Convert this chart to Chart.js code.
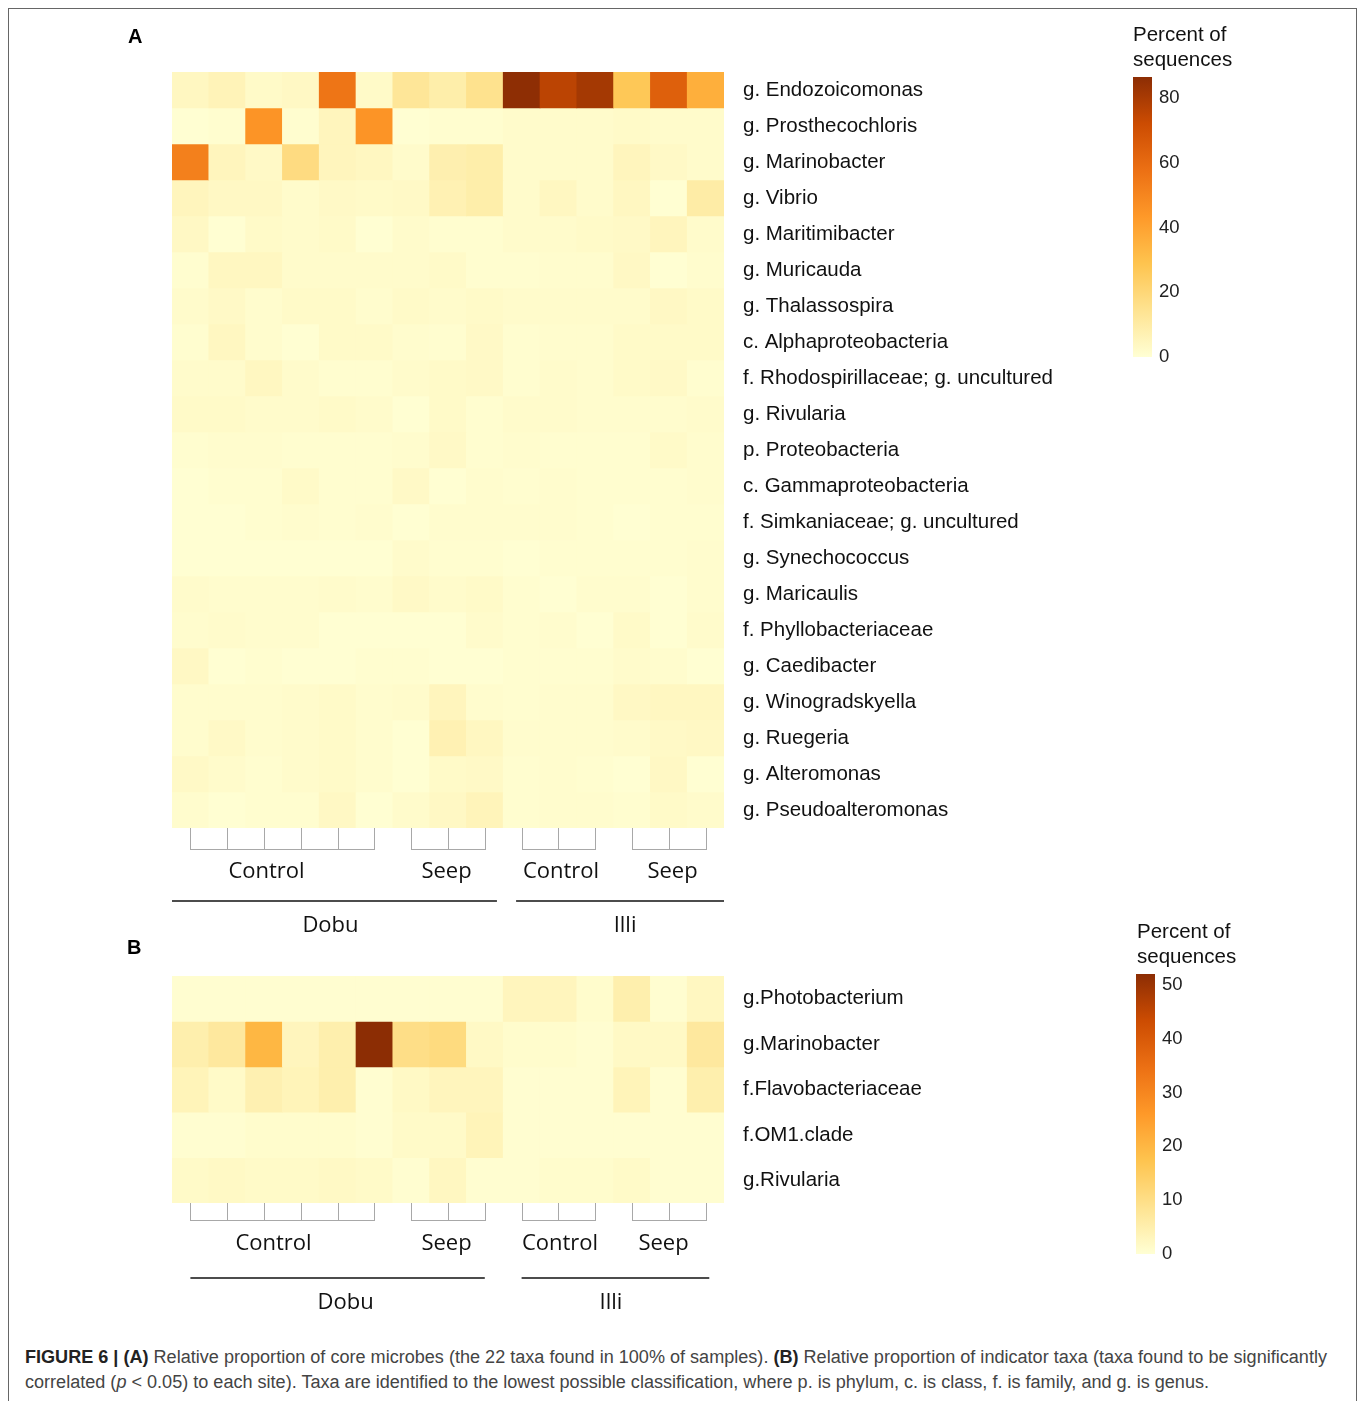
<!DOCTYPE html>
<html>
<head>
<meta charset="utf-8">
<script src="https://cdn.jsdelivr.net/npm/chart.js@4.4.1/dist/chart.umd.min.js"></script>
<style>
  body { margin: 0; background: #fff; }
  #page { position: relative; width: 1360px; height: 1401px; overflow: hidden; }
  #frame { position: absolute; left: 8px; top: 8px; width: 1349px; height: 1420px;
           border: 1px solid #666; box-sizing: border-box; }
  #chartA { position: absolute; left: 0; top: 0; }
  #chartB { position: absolute; left: 0; top: 905px; }
  .cap { position: absolute; left: 25px; white-space: nowrap; transform-origin: 0 50%;
         font: 18px "Liberation Sans", Arial, sans-serif; color: #444; line-height: 20px; }
  .cap b { color: #222; }
</style>
</head>
<body>
<div id="page">
  <div id="frame"></div>
  <canvas id="chartA" width="1360" height="945"></canvas>
  <canvas id="chartB" width="1360" height="425"></canvas>
  <div class="cap" id="cap1" data-w="1302" style="top:1347px"><b>FIGURE 6 | (A)</b> Relative proportion of core microbes (the 22 taxa found in 100% of samples). <b>(B)</b> Relative proportion of indicator taxa (taxa found to be significantly</div>
  <div class="cap" id="cap2" data-w="1184" style="top:1372px">correlated (<i>p</i> &lt; 0.05) to each site). Taxa are identified to the lowest possible classification, where p. is phylum, c. is class, f. is family, and g. is genus.</div>
</div>
<script>
// samples (columns), in plot order
const samples = ['D-C1', 'D-C2', 'D-C3', 'D-C4', 'D-C5', 'D-C6', 'D-S1', 'D-S2', 'D-S3',
                 'I-C1', 'I-C2', 'I-C3', 'I-S1', 'I-S2', 'I-S3'];
const sampleSite = ['Dobu', 'Dobu', 'Dobu', 'Dobu', 'Dobu', 'Dobu', 'Dobu', 'Dobu', 'Dobu',
                    'Illi', 'Illi', 'Illi', 'Illi', 'Illi', 'Illi'];
const sampleTreatment = ['Control', 'Control', 'Control', 'Control', 'Control', 'Control', 'Seep', 'Seep', 'Seep',
                         'Control', 'Control', 'Control', 'Seep', 'Seep', 'Seep'];

// panel A: core taxa, percent of sequences
const coreTaxa = [
  'g. Endozoicomonas', 'g. Prosthecochloris', 'g. Marinobacter', 'g. Vibrio', 'g. Maritimibacter',
  'g. Muricauda', 'g. Thalassospira', 'c. Alphaproteobacteria', 'f. Rhodospirillaceae; g. uncultured',
  'g. Rivularia', 'p. Proteobacteria', 'c. Gammaproteobacteria', 'f. Simkaniaceae; g. uncultured',
  'g. Synechococcus', 'g. Maricaulis', 'f. Phyllobacteriaceae', 'g. Caedibacter', 'g. Winogradskyella',
  'g. Ruegeria', 'g. Alteromonas', 'g. Pseudoalteromonas'
];
const coreValues = [
  [4, 6, 2.5, 3.5, 56, 2.5, 13, 9, 15, 86, 76, 81, 27, 64, 36],
  [0.5, 1, 45, 1, 5, 45, 0.5, 1, 1, 2, 2, 2, 2.5, 2, 2],
  [52, 5, 3, 18, 5, 4, 2, 8, 9, 2, 2, 2, 5, 3, 2],
  [5, 3.5, 3.5, 2, 3, 2.5, 3, 7, 9, 2, 4, 2, 4, 0.5, 10],
  [3.5, 0.5, 2.5, 2, 2.5, 0.5, 2, 1, 1, 2, 2, 2.5, 3, 5, 2],
  [1, 4, 4, 2, 2, 2, 2, 2.5, 1, 1, 1.5, 1.5, 3.5, 0.5, 1.5],
  [2, 3, 1.5, 2.5, 2.5, 1.5, 2.5, 2, 2.5, 2, 2, 2, 2, 3.5, 2.5],
  [1, 4, 1.5, 0.5, 2.5, 2.5, 1.5, 1, 3, 1, 1.5, 1.5, 2.5, 2.5, 2.5],
  [2, 2, 4, 2, 1, 1, 2, 2.5, 3, 1, 2, 1.5, 2.5, 3, 1],
  [2.5, 2.5, 2, 2, 2.5, 2, 0.5, 2.5, 1, 2, 2, 1.5, 1.5, 1.5, 2],
  [1, 1.5, 1.5, 1, 1, 1, 1.5, 3, 1, 1.5, 1, 1, 1, 2.5, 1.5],
  [0.5, 1, 1, 2.5, 1, 1, 3, 0.5, 1.5, 1, 1.5, 1, 1, 1, 1.5],
  [0.5, 0.5, 1, 1.5, 1, 1.5, 0.5, 1.5, 1.5, 1.5, 1.5, 1, 0.5, 1, 1],
  [0.5, 0.5, 0.5, 0.5, 0.5, 0.5, 2, 1, 1, 0.5, 1, 1, 1, 1, 1.5],
  [2, 1.5, 1.5, 1.5, 2, 1.5, 3, 2, 2.5, 1, 0.5, 1.5, 1.5, 0.5, 1.5],
  [1.5, 2, 1.5, 1.5, 0.5, 0.5, 0.5, 0.5, 2, 1, 1.5, 0.5, 2.5, 0.5, 2],
  [3.5, 0.5, 1, 0.5, 0.5, 1, 1, 0.5, 0.5, 1, 1, 1, 2, 1.5, 0.5],
  [1.5, 1.5, 1.5, 2, 2.5, 1.5, 2, 5, 1.5, 1, 1.5, 1.5, 3.5, 4, 4],
  [1.5, 3, 1.5, 2, 2.5, 1.5, 0.5, 7, 4, 1.5, 1.5, 1.5, 2, 3, 3.5],
  [3, 2, 1, 2, 2.5, 1.5, 0.5, 2.5, 3, 1, 1.5, 1, 0.5, 3.5, 0.5],
  [1.5, 0.5, 1, 1, 3.5, 0.5, 2, 3.5, 5.5, 1, 1.5, 1.5, 1, 2.5, 2]
];
const coreMax = 86.5;
const coreLegendTicks = [0, 20, 40, 60, 80];

// panel B: indicator taxa
const indicatorTaxa = ['g.Photobacterium', 'g.Marinobacter', 'f.Flavobacteriaceae', 'f.OM1.clade', 'g.Rivularia'];
const indicatorValues = [
  [0.5, 0.5, 0.5, 0.5, 0.5, 0.5, 0.5, 0.5, 0.5, 3, 3, 1, 5, 0.5, 2.5],
  [5, 7, 20, 3, 5, 52, 10, 11, 2, 1, 1, 0.5, 2, 2, 7],
  [3.5, 1.5, 4.5, 3.5, 5, 0.5, 2, 3, 3, 0.5, 0.5, 0.5, 3.5, 0.5, 5],
  [0.5, 0.5, 1, 1, 1, 0.5, 1.5, 1.5, 3.5, 0.5, 0.5, 0.5, 0.5, 0.5, 0.5],
  [1.5, 2, 1.5, 1.5, 2, 1.5, 0.5, 2.5, 0.5, 0.5, 1, 1, 1.5, 0.5, 0.5]
];
const indicatorMax = 52;
const indicatorLegendTicks = [0, 10, 20, 30, 40, 50];

// YlOrBr, 7 classes
const palette = ['#ffffd4', '#fee391', '#fec44f', '#fe9929', '#ec7014', '#cc4c02', '#8c2d04'];

function hexToRgb(h) {
  return [1, 3, 5].map(i => parseInt(h.slice(i, i + 2), 16));
}

function colorFor(v, max) {
  const t = Math.max(0, Math.min(1, v / max)) * (palette.length - 1);
  const i = Math.min(Math.floor(t), palette.length - 2);
  const f = t - i;
  const a = hexToRgb(palette[i]), b = hexToRgb(palette[i + 1]);
  const c = a.map((x, k) => Math.round(x + (b[k] - x) * f));
  return `rgb(${c[0]},${c[1]},${c[2]})`;
}

function runs(keys) {
  const out = [];
  keys.forEach((k, i) => {
    const last = out[out.length - 1];
    if (last && last.key === k) last.end = i;
    else out.push({ key: k, start: i, end: i });
  });
  return out;
}

const textFont = '"Liberation Sans", Arial, sans-serif';
const groupFont = '"Open Sans", "Noto Sans", sans-serif';

// background, brackets, site lines, colour bar and panel letter
const heatmapDecor = {
  id: 'heatmapDecor',
  beforeDatasetsDraw(chart) {
    const { ctx, chartArea: a } = chart;
    ctx.save();
    ctx.fillStyle = palette[0];
    ctx.fillRect(a.left, a.top, a.right - a.left, a.bottom - a.top);
    ctx.restore();
  },
  afterDraw(chart, args, o) {
    const { ctx, chartArea: a, scales: { x } } = chart;
    ctx.save();

    // panel letter
    ctx.fillStyle = '#000';
    ctx.font = `bold 20px ${textFont}`;
    ctx.textBaseline = 'middle';
    ctx.textAlign = 'left';
    ctx.fillText(o.letter.text, o.letter.x, o.letter.y);

    // treatment combs
    const treatKeys = samples.map((s, i) => sampleSite[i] + '/' + sampleTreatment[i]);
    const yTop = a.bottom, yBot = a.bottom + o.combDepth;
    ctx.strokeStyle = '#a8a8a8';
    ctx.lineWidth = 1;
    ctx.font = `22px ${groupFont}`;
    ctx.textAlign = 'center';
    ctx.fillStyle = '#111';
    runs(treatKeys).forEach((g, k) => {
      const xs = [];
      for (let i = g.start; i <= g.end; i++) xs.push(Math.round(x.getPixelForValue(i)) + 0.5);
      ctx.beginPath();
      xs.forEach(px => { ctx.moveTo(px, yTop); ctx.lineTo(px, yBot); });
      ctx.moveTo(xs[0], Math.round(yBot) - 0.5);
      ctx.lineTo(xs[xs.length - 1], Math.round(yBot) - 0.5);
      ctx.stroke();
      ctx.fillText(sampleTreatment[g.start], (xs[0] + xs[xs.length - 1]) / 2 + o.treatDx[k], a.bottom + o.treatY);
    });

    // site lines
    ctx.strokeStyle = '#111';
    ctx.lineWidth = 1.5;
    runs(sampleSite).forEach((g, k) => {
      const span = o.siteSpans[k];
      const x0 = x.getPixelForValue(span[0]), x1 = x.getPixelForValue(span[1]);
      const ly = a.bottom + o.siteLineY;
      ctx.beginPath();
      ctx.moveTo(x0, ly);
      ctx.lineTo(x1, ly);
      ctx.stroke();
      ctx.fillText(g.key, (x0 + x1) / 2 + o.siteDx[k], a.bottom + o.siteLabelY);
    });

    // colour bar
    const L = o.legend;
    ctx.textAlign = 'left';
    ctx.font = `20.5px ${textFont}`;
    ctx.fillStyle = '#111';
    ctx.fillText('Percent of', L.titleX, L.titleY);
    ctx.fillText('sequences', L.titleX, L.titleY + 25);
    const grad = ctx.createLinearGradient(0, L.bottom, 0, L.top);
    palette.forEach((c, i) => grad.addColorStop(i / (palette.length - 1), c));
    ctx.fillStyle = grad;
    ctx.fillRect(L.x, L.top, L.width, L.bottom - L.top);
    ctx.fillStyle = '#222';
    ctx.font = `18.5px ${textFont}`;
    L.ticks.forEach(t => {
      const ty = L.bottom - (t / L.max) * (L.bottom - L.top);
      ctx.fillText(String(t), L.x + L.width + 7, ty);
    });
    ctx.restore();
  }
};

function heatmapChart(canvasId, rows, values, max, padding, decor) {
  return new Chart(document.getElementById(canvasId), {
    type: 'bar',
    data: {
      labels: samples,
      datasets: rows.map((name, i) => ({
        label: name,
        data: samples.map(() => [i, i + 1]),
        backgroundColor: values[i].map(v => colorFor(v, max)),
        borderWidth: 0,
        barPercentage: 1,
        categoryPercentage: 1,
        grouped: false
      }))
    },
    options: {
      responsive: false,
      animation: false,
      events: [],
      layout: { padding },
      plugins: {
        legend: { display: false },
        tooltip: { enabled: false },
        heatmapDecor: decor
      },
      scales: {
        x: { type: 'category', display: false, offset: true },
        y: {
          type: 'linear',
          min: 0,
          max: rows.length,
          reverse: true,
          position: 'right',
          grid: { display: false, drawTicks: false },
          border: { display: false },
          afterBuildTicks: s => { s.ticks = rows.map((_, i) => ({ value: i + 0.5 })); },
          afterFit: s => { s.width = 400; },
          ticks: {
            autoSkip: false,
            padding: 19,
            color: '#111',
            font: { family: textFont, size: 20.5 },
            callback: (v, i) => rows[i]
          }
        }
      }
    },
    plugins: [heatmapDecor]
  });
}

heatmapChart('chartA', coreTaxa, coreValues, coreMax,
  { left: 172, top: 72, right: 236, bottom: 117 },
  {
    letter: { text: 'A', x: 128, y: 37 },
    combDepth: 22, treatY: 44, treatDx: [-16, -2, 2, 3],
    siteLineY: 73, siteLabelY: 98, siteDx: [-4, 5],
    siteSpans: [[-0.5, 8.33], [8.85, 14.5]],
    legend: { x: 1133, width: 19, top: 77, bottom: 357, max: coreMax, ticks: coreLegendTicks, titleX: 1133, titleY: 35 }
  });

heatmapChart('chartB', indicatorTaxa, indicatorValues, indicatorMax,
  { left: 172, top: 71, right: 236, bottom: 127 },
  {
    letter: { text: 'B', x: 127, y: 43 },
    combDepth: 18, treatY: 41, treatDx: [-9, -2, 1, -6],
    siteLineY: 75, siteLabelY: 100, siteDx: [8, -4.5],
    siteSpans: [[0, 8], [9, 14.1]],
    legend: { x: 1136, width: 19, top: 69, bottom: 349, max: indicatorMax, ticks: indicatorLegendTicks, titleX: 1137, titleY: 27 }
  });

// squeeze caption lines to the printed width
document.querySelectorAll('.cap').forEach(el => {
  const w = el.getBoundingClientRect().width;
  el.style.transform = `scaleX(${Number(el.dataset.w) / w})`;
});
</script>
</body>
</html>
